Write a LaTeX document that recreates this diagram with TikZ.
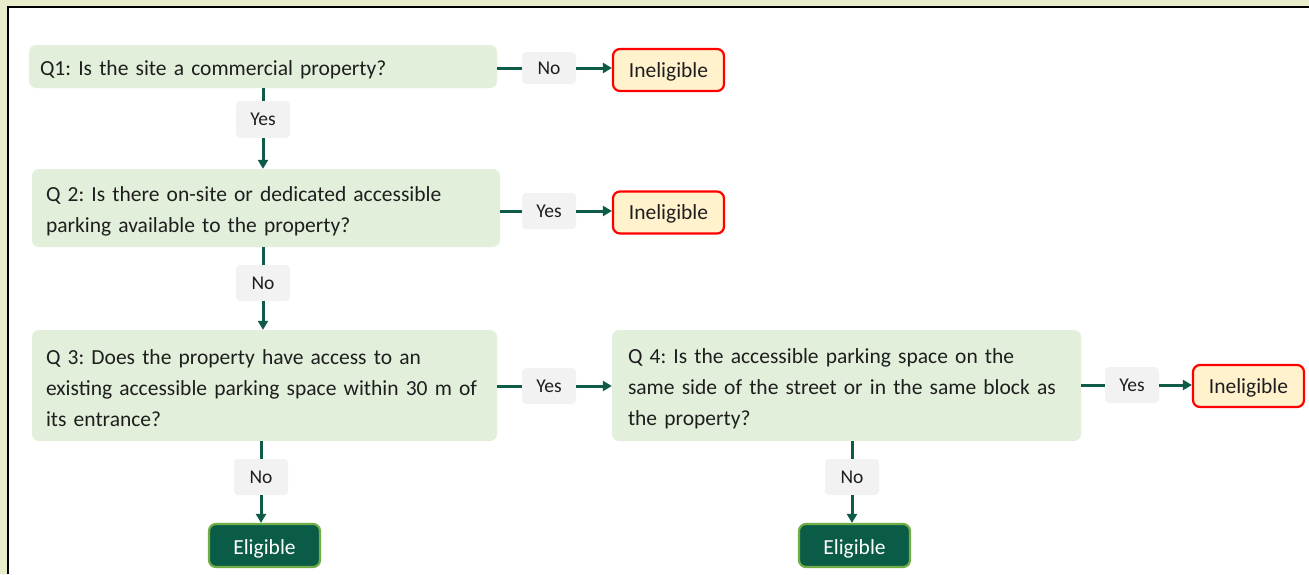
\documentclass[tikz,border=0pt]{standalone}
\usepackage{fontspec}
\setmainfont{Carlito}
\frenchspacing
\usetikzlibrary{arrows.meta,positioning,calc}
\definecolor{bgout}{HTML}{EAEDCB}
\definecolor{qfill}{HTML}{E2EFDA}
\definecolor{lfill}{HTML}{F2F2F2}
\definecolor{conncol}{HTML}{0E5B48}
\definecolor{inelfill}{HTML}{FFF2CC}
\definecolor{inelborder}{HTML}{FF0000}
\definecolor{eligfill}{HTML}{0B5C47}
\definecolor{eligborder}{HTML}{70AD47}
\definecolor{txt}{HTML}{1E1E1E}
\newcommand\topstrut{\rule{0pt}{22pt}}
\newcommand\instrut{\rule{0pt}{18.5pt}}
\begin{document}
\begin{tikzpicture}[x=1pt,y=-1pt,
  qbox/.style={fill=qfill, rounded corners=7pt, inner xsep=0pt, inner ysep=0pt, align=left, font=\fontsize{21.5}{31}\selectfont, text=txt},
  lbl/.style={fill=lfill, rounded corners=4pt, minimum width=54pt, minimum height=36pt, inner sep=0pt, font=\fontsize{19.5}{22}\selectfont, text=txt},
  inel/.style={fill=inelfill, draw=inelborder, line width=2.2pt, rounded corners=7pt, minimum width=111pt, minimum height=42pt, inner sep=0pt, font=\fontsize{21.5}{25}\selectfont, text=txt},
  elig/.style={fill=eligfill, draw=eligborder, line width=2.2pt, rounded corners=7pt, minimum width=111pt, minimum height=43pt, inner sep=0pt, font=\fontsize{21.5}{25}\selectfont, text=white},
  conn/.style={draw=conncol, line width=3pt},
  arr/.style={conn, -{Triangle[length=9pt,width=10pt]}}
]
\useasboundingbox (0,0) rectangle (1309,574);
\fill[bgout] (0,0) rectangle (1309,574);
\fill[white] (8,7) rectangle (1309,574);
\draw[black, line width=2pt] (8,574) -- (8,7) -- (1309,7);

% Question boxes
\node[qbox, minimum width=468pt, minimum height=43pt, text width=446pt] (q1) at (263,66.5) {\topstrut Q1: Is the site a commercial property?};
\node[qbox, minimum width=468pt, minimum height=78pt, text width=440pt] (q2) at (266,208) {\topstrut Q 2: Is there on-site or dedicated accessible\\parking available to the property?};
\node[qbox, minimum width=465pt, minimum height=111pt, text width=437pt] (q3) at (264.5,385.5) {\rule{0pt}{20pt}Q 3: Does the property have access to an\\existing accessible parking space within 30 m of\\its entrance?};
\node[qbox, minimum width=469pt, minimum height=111pt, text width=437pt] (q4) at (846.5,385.5) {\topstrut Q 4: Is the accessible parking space on the\\same side of the street or in the same block as\\the property?};

% Outcome boxes
\node[inel] (in1) at (668.5,70) {\instrut Ineligible};
\node[inel] (in2) at (668.5,212.5) {\instrut Ineligible};
\node[inel] (in3) at (1248.5,386) {\instrut Ineligible};
\node[elig] (el1) at (264.5,545.5) {\topstrut Eligible};
\node[elig] (el2) at (854.5,545.5) {\topstrut Eligible};

% Labels
\node[lbl, minimum height=32pt] (l1) at (549,68) {No};
\node[lbl, minimum height=37pt] (l2) at (263,119.5) {Yes};
\node[lbl] (l3) at (549,211) {Yes};
\node[lbl] (l4) at (263,283) {No};
\node[lbl] (l5) at (549,386) {Yes};
\node[lbl] (l6) at (1132,385) {Yes};
\node[lbl] (l7) at (261,477) {No};
\node[lbl] (l8) at (852,477) {No};

% Connectors
\draw[conn] (q1.east |- l1.west) -- (l1.west);
\draw[arr] (l1.east) -- (l1.east -| in1.west);
\draw[conn] (l2.north |- q1.south) -- (l2.north);
\draw[arr] (l2.south) -- (l2.south |- q2.north);
\draw[conn] (q2.east |- l3.west) -- (l3.west);
\draw[arr] (l3.east) -- (l3.east -| in2.west);
\draw[conn] (l4.north |- q2.south) -- (l4.north);
\draw[arr] (l4.south) -- (l4.south |- q3.north);
\draw[conn] (q3.east |- l5.west) -- (l5.west);
\draw[arr] (l5.east) -- (l5.east -| q4.west);
\draw[conn] (q4.east |- l6.west) -- (l6.west);
\draw[arr] (l6.east) -- (l6.east -| in3.west);
\draw[conn] (l7.north |- q3.south) -- (l7.north);
\draw[arr] (l7.south) -- (l7.south |- el1.north);
\draw[conn] (l8.north |- q4.south) -- (l8.north);
\draw[arr] (l8.south) -- (l8.south |- el2.north);
\end{tikzpicture}
\end{document}
